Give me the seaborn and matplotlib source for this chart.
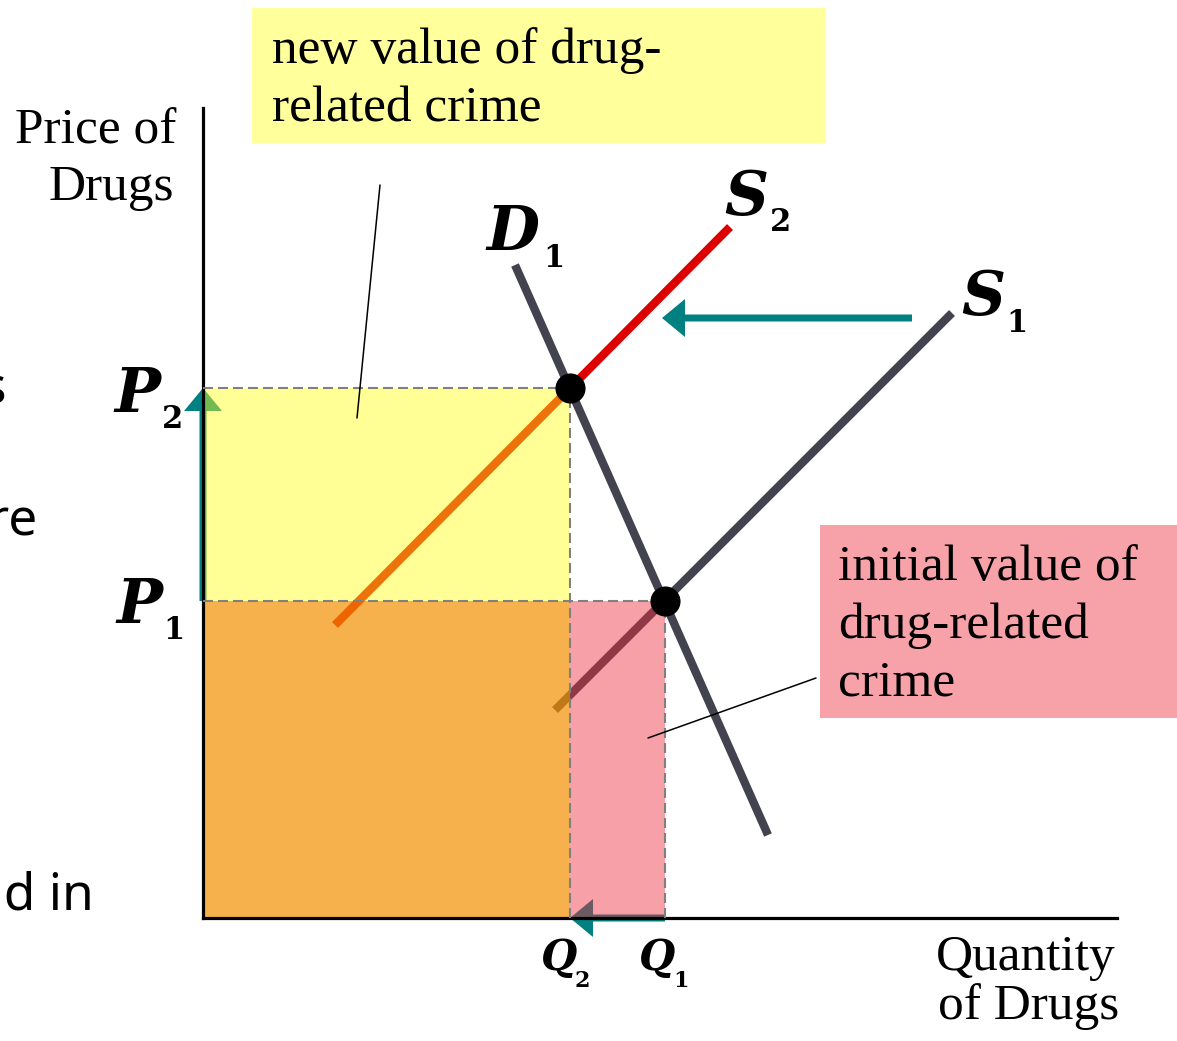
import matplotlib
matplotlib.use("Agg")
import matplotlib.pyplot as plt
from matplotlib.patches import Rectangle
import seaborn as sns

# --- model values (chart units, 1 unit = 10 px in the 1177x1041 picture) ---
q_labels = ["Q2", "Q1"]
q_values = [36.7, 46.2]          # Q2, Q1
p_values = [31.7, 53.0]          # P1, P2

demand_q = [31.2, 56.5]
demand_p = [65.3, 8.3]
supply1_q = [35.2, 74.9]
supply1_p = [20.8, 60.5]
supply2_q = [13.2, 52.7]
supply2_p = [29.3, 69.1]

eq_q = [46.2, 36.7]              # (Q1,P1) and (Q2,P2)
eq_p = [31.7, 53.0]

shift_from = [70.9, 60.0]
shift_to = [45.9, 60.0]

W, H = 1177, 1041
X0, Y0 = 203, 918                # origin in pixels
XMAX, YMAX = 91.4, 81.0


def px(x, y):
    # pixel position -> data position
    return (x - X0) / 10.0, (Y0 - y) / 10.0


sns.set_style("white")
serif = ["Liberation Serif", "DejaVu Serif"]
heavy = ["DejaVu Serif"]
sans = ["Noto Sans", "DejaVu Sans"]

fig = plt.figure(figsize=(W / 100, H / 100), dpi=100)
ax = fig.add_axes([X0 / W, (H - Y0) / H, XMAX * 10 / W, YMAX * 10 / H])
ax.set_xlim(0, XMAX)
ax.set_ylim(0, YMAX)
ax.set_xticks([])
ax.set_yticks([])
sns.despine(ax=ax)
for s in ["left", "bottom"]:
    ax.spines[s].set_color("black")
    ax.spines[s].set_linewidth(2.3)
    ax.spines[s].set_zorder(3.5)

Q2, Q1 = q_values
P1, P2 = p_values
dark = "#43434f"
teal = "#008080"

# curves
for xs, ys, c in [(demand_q, demand_p, dark), (supply1_q, supply1_p, dark),
                  (supply2_q, supply2_p, "#dd0000")]:
    sns.lineplot(x=xs, y=ys, ax=ax, color=c, lw=6, sort=False,
                 solid_capstyle="butt", zorder=1)

# arrows
aw = dict(width=0.7, head_width=3.8, head_length=2.3, length_includes_head=True,
          color=teal, lw=0, zorder=1.5, clip_on=False)
ax.arrow(shift_from[0], shift_from[1], shift_to[0] - shift_from[0], 0, **aw)
ax.arrow(0, P1, 0, P2 - P1, **aw)
ax.arrow(Q1, 0, Q2 - Q1, 0, **aw)

# value areas: new (0..Q2 x 0..P2) and initial (0..Q1 x 0..P1); overlap is orange
ax.fill_between([0, Q2], P1, P2, color="#ffff16", alpha=0.45, lw=0, zorder=2)
ax.fill_between([Q2, Q1], 0, P1, color="#ef2c3d", alpha=0.45, lw=0, zorder=2)
ax.fill_between([0, Q2], 0, P1, color="#f59100", alpha=0.7, lw=0, zorder=2)

# dashed guides
dash = dict(color="#808080", lw=1.5, ls=(0, (4.8, 2.4)), zorder=4)
ax.plot([0, Q2], [P2, P2], **dash)
ax.plot([Q2, Q2], [0, P2], **dash)
ax.plot([0, Q1], [P1, P1], **dash)
ax.plot([Q1, Q1], [0, P1], **dash)

# equilibria
sns.scatterplot(x=eq_q, y=eq_p, ax=ax, s=470, color="black", edgecolor="black",
                linewidth=0, zorder=6, legend=False)

# annotation boxes
bx0, by0 = px(252, 143)
bx1, by1 = px(826, 8)
ax.add_patch(Rectangle((bx0, by0), bx1 - bx0, by1 - by0, color="#ffff9c",
                       lw=0, clip_on=False, zorder=2))
bx0, by0 = px(820, 718)
bx1, by1 = px(1177, 525)
ax.add_patch(Rectangle((bx0, by0), bx1 - bx0, by1 - by0, color="#f7a2a9",
                       lw=0, clip_on=False, zorder=2))

ax.plot(*zip(px(380, 185), px(357, 418)), color="black", lw=1.1, zorder=7, clip_on=False)
ax.plot(*zip(px(816, 678), px(648, 738)), color="black", lw=1.1, zorder=7, clip_on=False)


def line_text(x, y, s, size, family, ha="left", **kw):
    ax.text(*px(x, y), s, fontsize=size, family=family, ha=ha, va="baseline",
            color="black", clip_on=False, zorder=8, **kw)


line_text(272, 63, "new value of drug-", 37, serif)
line_text(272, 121, "related crime", 37, serif)
line_text(838, 580, "initial value of", 37, serif)
line_text(838, 638, "drug-related", 37, serif)
line_text(838, 695, "crime", 37, serif)

line_text(176, 144, "Price of", 37, serif, ha="right")
line_text(174, 200, "Drugs", 37, serif, ha="right")
line_text(1116, 970, "Quantity", 37, serif, ha="right")
line_text(1119, 1019, "of Drugs", 37, serif, ha="right")

# slide text cut off at the left edge
line_text(6, 403, "s", 37, sans, ha="right")
line_text(38, 535, "re", 37, sans, ha="right")
line_text(94, 910, "nd in", 37, sans, ha="right")


def sym(x, y, main, sx, sy, sub, size=44, subsize=22):
    line_text(x, y, main, size, heavy, weight="bold", style="italic")
    line_text(sx, sy, sub, subsize, heavy, weight="bold")


sym(114, 412, "P", 162, 428, "2")
sym(116, 623, "P", 163, 639, "1")
sym(486, 250, "D", 543, 267, "1")
sym(724, 215, "S", 770, 231, "2")
sym(961, 315, "S", 1006, 332, "1")
sym(541, 970, "Q", 575, 987, "2", size=30, subsize=16)
sym(639, 970, "Q", 673, 987, "1", size=30, subsize=16)

fig.savefig("out.png", dpi=100)
